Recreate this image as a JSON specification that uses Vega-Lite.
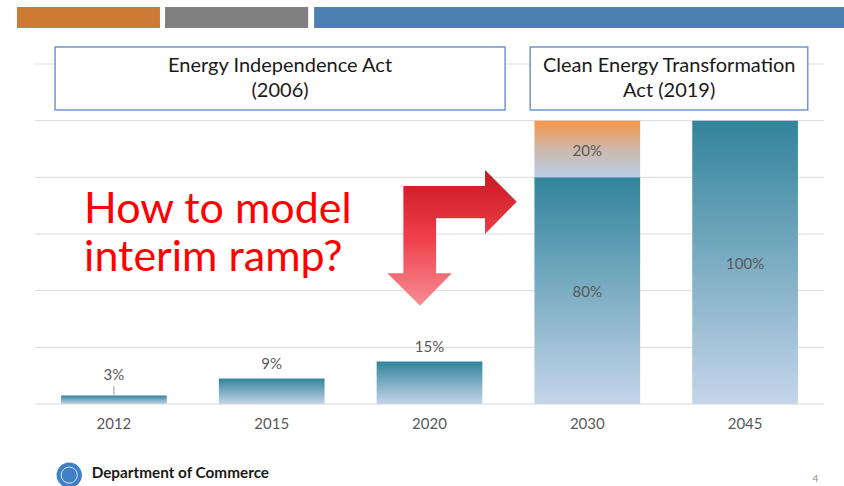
{
  "$schema": "https://vega.github.io/schema/vega-lite/v6.json",
  "width": 789,
  "height": 340,
  "autosize": {"type": "none"},
  "padding": {"left": 35, "top": 64, "right": 20, "bottom": 82},
  "background": "white",
  "config": {"view": {"stroke": null}, "font": "Lato"},
  "datasets": {
    "bars": [
      {"year": "2012", "seg": "base", "start": 0, "end": 3, "label": "3%"},
      {"year": "2015", "seg": "base", "start": 0, "end": 9, "label": "9%"},
      {"year": "2020", "seg": "base", "start": 0, "end": 15, "label": "15%"},
      {"year": "2030", "seg": "base", "start": 0, "end": 80, "label": "80%"},
      {"year": "2030", "seg": "top", "start": 80, "end": 100, "label": "20%"},
      {"year": "2045", "seg": "base", "start": 0, "end": 100, "label": "100%"}
    ],
    "grid": [{"v": 0}, {"v": 20}, {"v": 40}, {"v": 60}, {"v": 80}, {"v": 100}, {"v": 120}],
    "header": [
      {"k": "a", "u": -0.114, "u2": 0.792, "v": 132.7, "v2": 140.1},
      {"k": "b", "u": 0.824, "u2": 1.731, "v": 132.7, "v2": 140.1},
      {"k": "c", "u": 1.769, "u2": 5.13, "v": 132.7, "v2": 140.1}
    ],
    "boxes": [
      {"u": 0.127, "u2": 2.979, "v": 103.8, "v2": 126.0},
      {"u": 3.138, "u2": 4.897, "v": 103.8, "v2": 126.0}
    ],
    "boxtext": [
      {"u": 1.553, "v": 117.3, "t": "Energy Independence Act"},
      {"u": 1.553, "v": 108.3, "t": "(2006)"},
      {"u": 4.019, "v": 117.3, "t": "Clean Energy Transformation"},
      {"u": 4.019, "v": 108.3, "t": "Act (2019)"}
    ],
    "red": [
      {"u": 0.311, "v": 64.0, "t": "How to model"},
      {"u": 0.311, "v": 47.0, "t": "interim ramp?"}
    ],
    "arrow": [{"u": 2.643, "v": 58.6}],
    "logo": [{"u": 0.217, "v": -25.1}],
    "footer": [{"u": 0.359, "v": -24.4, "t": "Department of Commerce"}],
    "page": [{"u": 4.945, "v": -26.3, "t": "4"}]
  },
  "layer": [
    {
      "encoding": {
        "x": {
          "field": "year", "type": "nominal", "sort": null,
          "scale": {"domain": ["2012", "2015", "2020", "2030", "2045"], "paddingInner": 0.33, "paddingOuter": 0.165},
          "axis": {"title": null, "labelAngle": 0, "ticks": false, "domain": false, "grid": false, "labelPadding": 12, "labelFontSize": 15, "labelColor": "#595959", "labelFont": "Lato"}
        }
      },
      "layer": [
        {
          "data": {"name": "grid"},
          "mark": {"type": "rule", "color": "#d9d9d9", "strokeWidth": 1},
          "encoding": {
            "x": null,
            "y": {"field": "v", "type": "quantitative", "scale": {"domain": [0, 120], "nice": false}, "axis": null}
          }
        },
        {
          "data": {"name": "bars"},
          "transform": [{"filter": "datum.seg == 'base'"}],
          "mark": {"type": "bar", "color": {"gradient": "linear", "x1": 0, "y1": 0, "x2": 0, "y2": 1, "stops": [{"offset": 0, "color": "#31849b"}, {"offset": 1, "color": "#c5d5ea"}]}},
          "encoding": {
            "y": {"field": "start", "type": "quantitative", "scale": {"domain": [0, 120], "nice": false}, "axis": null},
            "y2": {"field": "end"}
          }
        },
        {
          "data": {"name": "bars"},
          "transform": [{"filter": "datum.seg == 'top'"}],
          "mark": {"type": "bar", "color": {"gradient": "linear", "x1": 0, "y1": 0, "x2": 0, "y2": 1, "stops": [{"offset": 0, "color": "#f79646"}, {"offset": 0.5, "color": "#cdb8aa"}, {"offset": 1, "color": "#b9cde5"}]}},
          "encoding": {
            "y": {"field": "start", "type": "quantitative", "scale": {"domain": [0, 120], "nice": false}, "axis": null},
            "y2": {"field": "end"}
          }
        },
        {
          "data": {"name": "bars"},
          "transform": [{"filter": "datum.year == '2012'"}],
          "mark": {"type": "rule", "color": "#a6a6a6", "strokeWidth": 1},
          "encoding": {
            "y": {"field": "end", "type": "quantitative", "scale": {"domain": [0, 120], "nice": false}, "axis": null},
            "y2": {"datum": 6.4}
          }
        },
        {
          "data": {"name": "bars"},
          "transform": [{"filter": "datum.year == '2012'"}],
          "mark": {"type": "text", "baseline": "alphabetic", "dy": -15.5, "fontSize": 15, "color": "#595959", "font": "Lato"},
          "encoding": {
            "y": {"field": "end", "type": "quantitative", "scale": {"domain": [0, 120], "nice": false}, "axis": null},
            "text": {"field": "label"}
          }
        },
        {
          "data": {"name": "bars"},
          "transform": [{"filter": "datum.year == '2015' || datum.year == '2020'"}],
          "mark": {"type": "text", "baseline": "alphabetic", "dy": -9.5, "fontSize": 15, "color": "#595959", "font": "Lato"},
          "encoding": {
            "y": {"field": "end", "type": "quantitative", "scale": {"domain": [0, 120], "nice": false}, "axis": null},
            "text": {"field": "label"}
          }
        },
        {
          "data": {"name": "bars"},
          "transform": [{"filter": "datum.year == '2030' || datum.year == '2045'"}, {"calculate": "(datum.start + datum.end) / 2", "as": "mid"}],
          "mark": {"type": "text", "baseline": "middle", "dy": 1.5, "fontSize": 15, "color": "#595959", "font": "Lato"},
          "encoding": {
            "y": {"field": "mid", "type": "quantitative", "scale": {"domain": [0, 120], "nice": false}, "axis": null},
            "text": {"field": "label"}
          }
        }
      ]
    },
    {
      "layer": [
        {
          "data": {"name": "header"},
          "mark": {"type": "rect"},
          "encoding": {
            "x": {"field": "u", "type": "quantitative", "scale": {"domain": [0, 5], "nice": false, "zero": false}, "axis": null},
            "x2": {"field": "u2"},
            "y": {"field": "v", "type": "quantitative", "scale": {"domain": [0, 120], "nice": false}, "axis": null},
            "y2": {"field": "v2"},
            "color": {"field": "k", "type": "nominal", "scale": {"domain": ["a", "b", "c"], "range": ["#cd7a35", "#808080", "#4f80b3"]}, "legend": null}
          }
        },
        {
          "data": {"name": "boxes"},
          "mark": {"type": "rect", "fill": "white", "stroke": "#7396cc", "strokeWidth": 1.5},
          "encoding": {
            "x": {"field": "u", "type": "quantitative", "scale": {"domain": [0, 5], "nice": false, "zero": false}, "axis": null},
            "x2": {"field": "u2"},
            "y": {"field": "v", "type": "quantitative", "scale": {"domain": [0, 120], "nice": false}, "axis": null},
            "y2": {"field": "v2"}
          }
        },
        {
          "data": {"name": "boxtext"},
          "mark": {"type": "text", "baseline": "alphabetic", "align": "center", "fontSize": 20, "color": "#1a1a1a", "font": "Lato"},
          "encoding": {
            "x": {"field": "u", "type": "quantitative", "scale": {"domain": [0, 5], "nice": false, "zero": false}, "axis": null},
            "y": {"field": "v", "type": "quantitative", "scale": {"domain": [0, 120], "nice": false}, "axis": null},
            "text": {"field": "t"}
          }
        },
        {
          "data": {"name": "red"},
          "mark": {"type": "text", "baseline": "alphabetic", "align": "left", "fontSize": 43, "color": "#ff0000", "font": "Lato"},
          "encoding": {
            "x": {"field": "u", "type": "quantitative", "scale": {"domain": [0, 5], "nice": false, "zero": false}, "axis": null},
            "y": {"field": "v", "type": "quantitative", "scale": {"domain": [0, 120], "nice": false}, "axis": null},
            "text": {"field": "t"}
          }
        },
        {
          "data": {"name": "arrow"},
          "mark": {
            "type": "point", "filled": true, "opacity": 1, "strokeWidth": 0, "size": 18496,
            "shape": "M -0.716 -0.765 L 0.485 -0.765 L 0.485 -1 L 0.951 -0.533 L 0.485 -0.059 L 0.485 -0.29 L -0.235 -0.29 L -0.235 0.519 L -0.004 0.519 L -0.471 0.996 L -0.951 0.519 L -0.716 0.519 Z",
            "color": {"gradient": "linear", "x1": 0, "y1": 0, "x2": 0, "y2": 1, "stops": [{"offset": 0, "color": "#c8161f"}, {"offset": 0.5, "color": "#ee3f4a"}, {"offset": 1, "color": "#f68e95"}]}
          },
          "encoding": {
            "x": {"field": "u", "type": "quantitative", "scale": {"domain": [0, 5], "nice": false, "zero": false}, "axis": null},
            "y": {"field": "v", "type": "quantitative", "scale": {"domain": [0, 120], "nice": false}, "axis": null}
          }
        },
        {
          "data": {"name": "logo"},
          "mark": {"type": "point", "shape": "circle", "filled": true, "opacity": 1, "size": 640, "color": "#3f7fc6"},
          "encoding": {
            "x": {"field": "u", "type": "quantitative", "scale": {"domain": [0, 5], "nice": false, "zero": false}, "axis": null},
            "y": {"field": "v", "type": "quantitative", "scale": {"domain": [0, 120], "nice": false}, "axis": null}
          }
        },
        {
          "data": {"name": "logo"},
          "mark": {"type": "point", "shape": "circle", "filled": false, "opacity": 1, "size": 260, "stroke": "#dbe7f5", "strokeWidth": 1},
          "encoding": {
            "x": {"field": "u", "type": "quantitative", "scale": {"domain": [0, 5], "nice": false, "zero": false}, "axis": null},
            "y": {"field": "v", "type": "quantitative", "scale": {"domain": [0, 120], "nice": false}, "axis": null}
          }
        },
        {
          "data": {"name": "footer"},
          "mark": {"type": "text", "baseline": "middle", "align": "left", "fontSize": 15.3, "fontWeight": "bold", "color": "#1a1a1a", "font": "Lato"},
          "encoding": {
            "x": {"field": "u", "type": "quantitative", "scale": {"domain": [0, 5], "nice": false, "zero": false}, "axis": null},
            "y": {"field": "v", "type": "quantitative", "scale": {"domain": [0, 120], "nice": false}, "axis": null},
            "text": {"field": "t"}
          }
        },
        {
          "data": {"name": "page"},
          "mark": {"type": "text", "baseline": "middle", "align": "center", "fontSize": 10, "color": "#8c8c8c", "font": "Lato"},
          "encoding": {
            "x": {"field": "u", "type": "quantitative", "scale": {"domain": [0, 5], "nice": false, "zero": false}, "axis": null},
            "y": {"field": "v", "type": "quantitative", "scale": {"domain": [0, 120], "nice": false}, "axis": null},
            "text": {"field": "t"}
          }
        }
      ]
    }
  ],
  "resolve": {"scale": {"x": "independent"}}
}
